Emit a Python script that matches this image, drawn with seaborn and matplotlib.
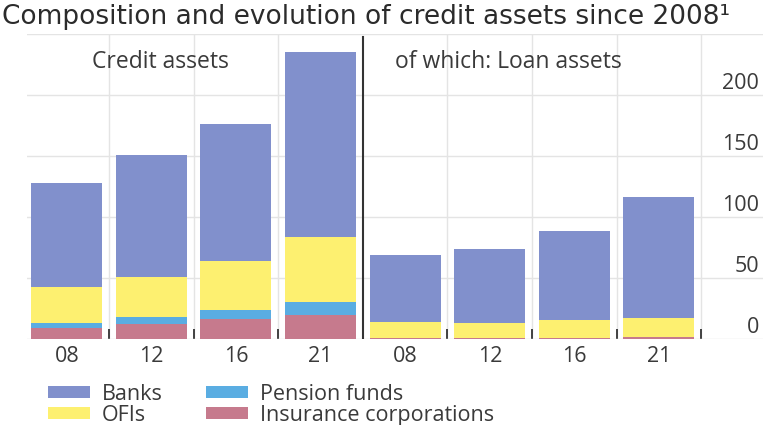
import numpy as np
import pandas as pd
import matplotlib
matplotlib.use("Agg")
import matplotlib.pyplot as plt
import seaborn as sns
from matplotlib.patches import Patch
from matplotlib.ticker import FixedLocator
from matplotlib.transforms import ScaledTranslation

# data (stacked)
years = ["08", "12", "16", "21"]
panels = ["Credit assets", "of which: Loan assets"]
banks_credit = [85, 100, 112, 152]
ofis_credit = [30, 33, 40, 53.5]
pension_credit = [4, 6, 8, 10.5]
insurance_credit = [9, 12, 16, 19.5]
banks_loan = [55, 61, 73, 99]
ofis_loan = [13, 12, 14.5, 15]
pension_loan = [0, 0, 0, 0]
insurance_loan = [1, 1, 1, 2]

series = ["Banks", "OFIs", "Pension funds", "Insurance corporations"]
colors = {"Banks": "#8190cc", "OFIs": "#fdf070",
          "Pension funds": "#5aade2", "Insurance corporations": "#c67a8d"}

# build long table, one key per bar so the two panels share one axis
keys = [p + y for p in ["C", "L"] for y in years]
df = pd.DataFrame({
    "key": keys,
    "Insurance corporations": insurance_credit + insurance_loan,
    "Pension funds": pension_credit + pension_loan,
    "OFIs": ofis_credit + ofis_loan,
    "Banks": banks_credit + banks_loan,
})
# cumulative tops, bottom layer first
stack_order = ["Insurance corporations", "Pension funds", "OFIs", "Banks"]
cum = df[stack_order].cumsum(axis=1)

text_col = "#3a3a3a"
plt.rcParams["font.family"] = ["Open Sans", "DejaVu Sans"]

fig = plt.figure(figsize=(7.79, 4.25), dpi=100)
ax = fig.add_axes([27 / 779, 86 / 425, (763 - 27) / 779, (339 - 34) / 425])

# draw tallest cumulative first so lower layers sit on top
for s in reversed(stack_order):
    sns.barplot(x=df["key"], y=cum[s], order=keys, color=colors[s], width=0.84,
                errorbar=None, linewidth=0, saturation=1, ax=ax)

ax.set_xlim(-0.47, 8.23)
ax.set_ylim(0, 250)
ax.set_xlabel("")
ax.set_ylabel("")

# x ticks: year labels, small dark separators between bars
ax.set_xticks(range(len(keys)))
ax.set_xticklabels(years + years, fontsize=15.5, color=text_col)
seps = [0.5, 1.5, 2.5, 4.5, 5.5, 6.5, 7.5]
ax.xaxis.set_minor_locator(FixedLocator(seps))
ax.tick_params(axis="x", which="major", length=0, pad=5)
ax.tick_params(axis="x", which="minor", direction="in", length=7, width=1.3,
               color="#333333")
ax.grid(which="minor", axis="x", color="#e4e4e4", linewidth=1)

# y ticks on the right, inside the plot, sitting on the gridlines
ax.yaxis.tick_right()
ax.set_yticks([0, 50, 100, 150, 200, 250])
ax.set_yticklabels(["0", "50", "100", "150", "200", ""], fontsize=15.5,
                   color=text_col)
ax.tick_params(axis="y", length=0, pad=-3)
for lab in ax.get_yticklabels():
    lab.set_horizontalalignment("right")
    lab.set_verticalalignment("baseline")
    lab.set_transform(lab.get_transform()
                      + ScaledTranslation(0, 4 / 72, fig.dpi_scale_trans))
ax.grid(which="major", axis="y", color="#e4e4e4", linewidth=1)
ax.set_axisbelow(True)

for sp in ax.spines.values():
    sp.set_visible(False)

# panel divider
ax.axvline(3.5, color="#333333", linewidth=1.5, ymax=0.99)

# panel labels
ax.text(0.30, 222, panels[0], fontsize=16.5, color=text_col, va="baseline")
ax.text(3.88, 222, panels[1], fontsize=16.5, color=text_col, va="baseline")

fig.text(0.003, 0.943, "Composition and evolution of credit assets since 2008\u00b9",
         fontsize=19, color="#2b2b2b", va="baseline", family="DejaVu Sans")

handles = [Patch(facecolor=colors[s], edgecolor="none") for s in series]
fig.legend(handles, series, loc="upper left", bbox_to_anchor=(48 / 779, 1 - 384 / 425),
           ncol=2, frameon=False, fontsize=15.5, handlelength=1.95, handleheight=0.5,
           handletextpad=0.55, columnspacing=2.0, labelspacing=-0.02,
           borderaxespad=0, borderpad=0, labelcolor=text_col)

fig.savefig("out.png", dpi=100)
